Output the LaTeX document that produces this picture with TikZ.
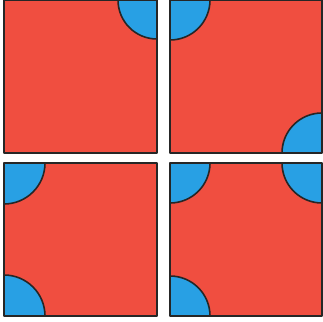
\documentclass[tikz,border=0pt]{standalone}
\usepackage{tikz}

\definecolor{tilered}{RGB}{240,78,64}
\definecolor{capblue}{RGB}{40,160,228}
\definecolor{rim}{RGB}{38,38,38}

\begin{document}
\begin{tikzpicture}[
        x=1pt, y=1pt,
        line cap=round,
        line join=round,
        tile/.style={fill=tilered},
        rimline/.style={draw=rim, line width=2.2pt},
        bluecap/.style={fill=capblue, draw=rim, line width=1.6pt}
    ]
        \useasboundingbox (0,0) rectangle (323,321);

        \begin{scope}[shift={(4,168)}]
            \coordinate (a1) at (0,0);
            \coordinate (a2) at (153,153);

            \fill[tile] (a1) rectangle (a2);
            \begin{scope}
                \clip (a1) rectangle (a2);
                \foreach \p in {(153,153)}{
                    \draw[bluecap] \p circle[radius=39];
                }
            \end{scope}
            \draw[rimline] (a1) rectangle (a2);
        \end{scope}

        \begin{scope}[shift={(170,168)}]
            \coordinate (b1) at (0,0);
            \coordinate (b2) at (152,153);

            \fill[tile] (b1) rectangle (b2);
            \begin{scope}
                \clip (b1) rectangle (b2);
                \foreach \p in {(0,153),(152,0)}{
                    \draw[bluecap] \p circle[radius=40];
                }
            \end{scope}
            \draw[rimline] (b1) rectangle (b2);
        \end{scope}

        \begin{scope}[shift={(4,5)}]
            \coordinate (c1) at (0,0);
            \coordinate (c2) at (153,153);

            \fill[tile] (c1) rectangle (c2);
            \begin{scope}
                \clip (c1) rectangle (c2);
                \foreach \p in {(0,153),(0,0)}{
                    \draw[bluecap] \p circle[radius=41];
                }
            \end{scope}
            \draw[rimline] (c1) rectangle (c2);
        \end{scope}

        \begin{scope}[shift={(170,5)}]
            \coordinate (d1) at (0,0);
            \coordinate (d2) at (152,153);

            \fill[tile] (d1) rectangle (d2);
            \begin{scope}
                \clip (d1) rectangle (d2);
                \foreach \p in {(0,153),(152,153),(0,0)}{
                    \draw[bluecap] \p circle[radius=40];
                }
            \end{scope}
            \draw[rimline] (d1) rectangle (d2);
        \end{scope}
    \end{tikzpicture}
\end{document}
